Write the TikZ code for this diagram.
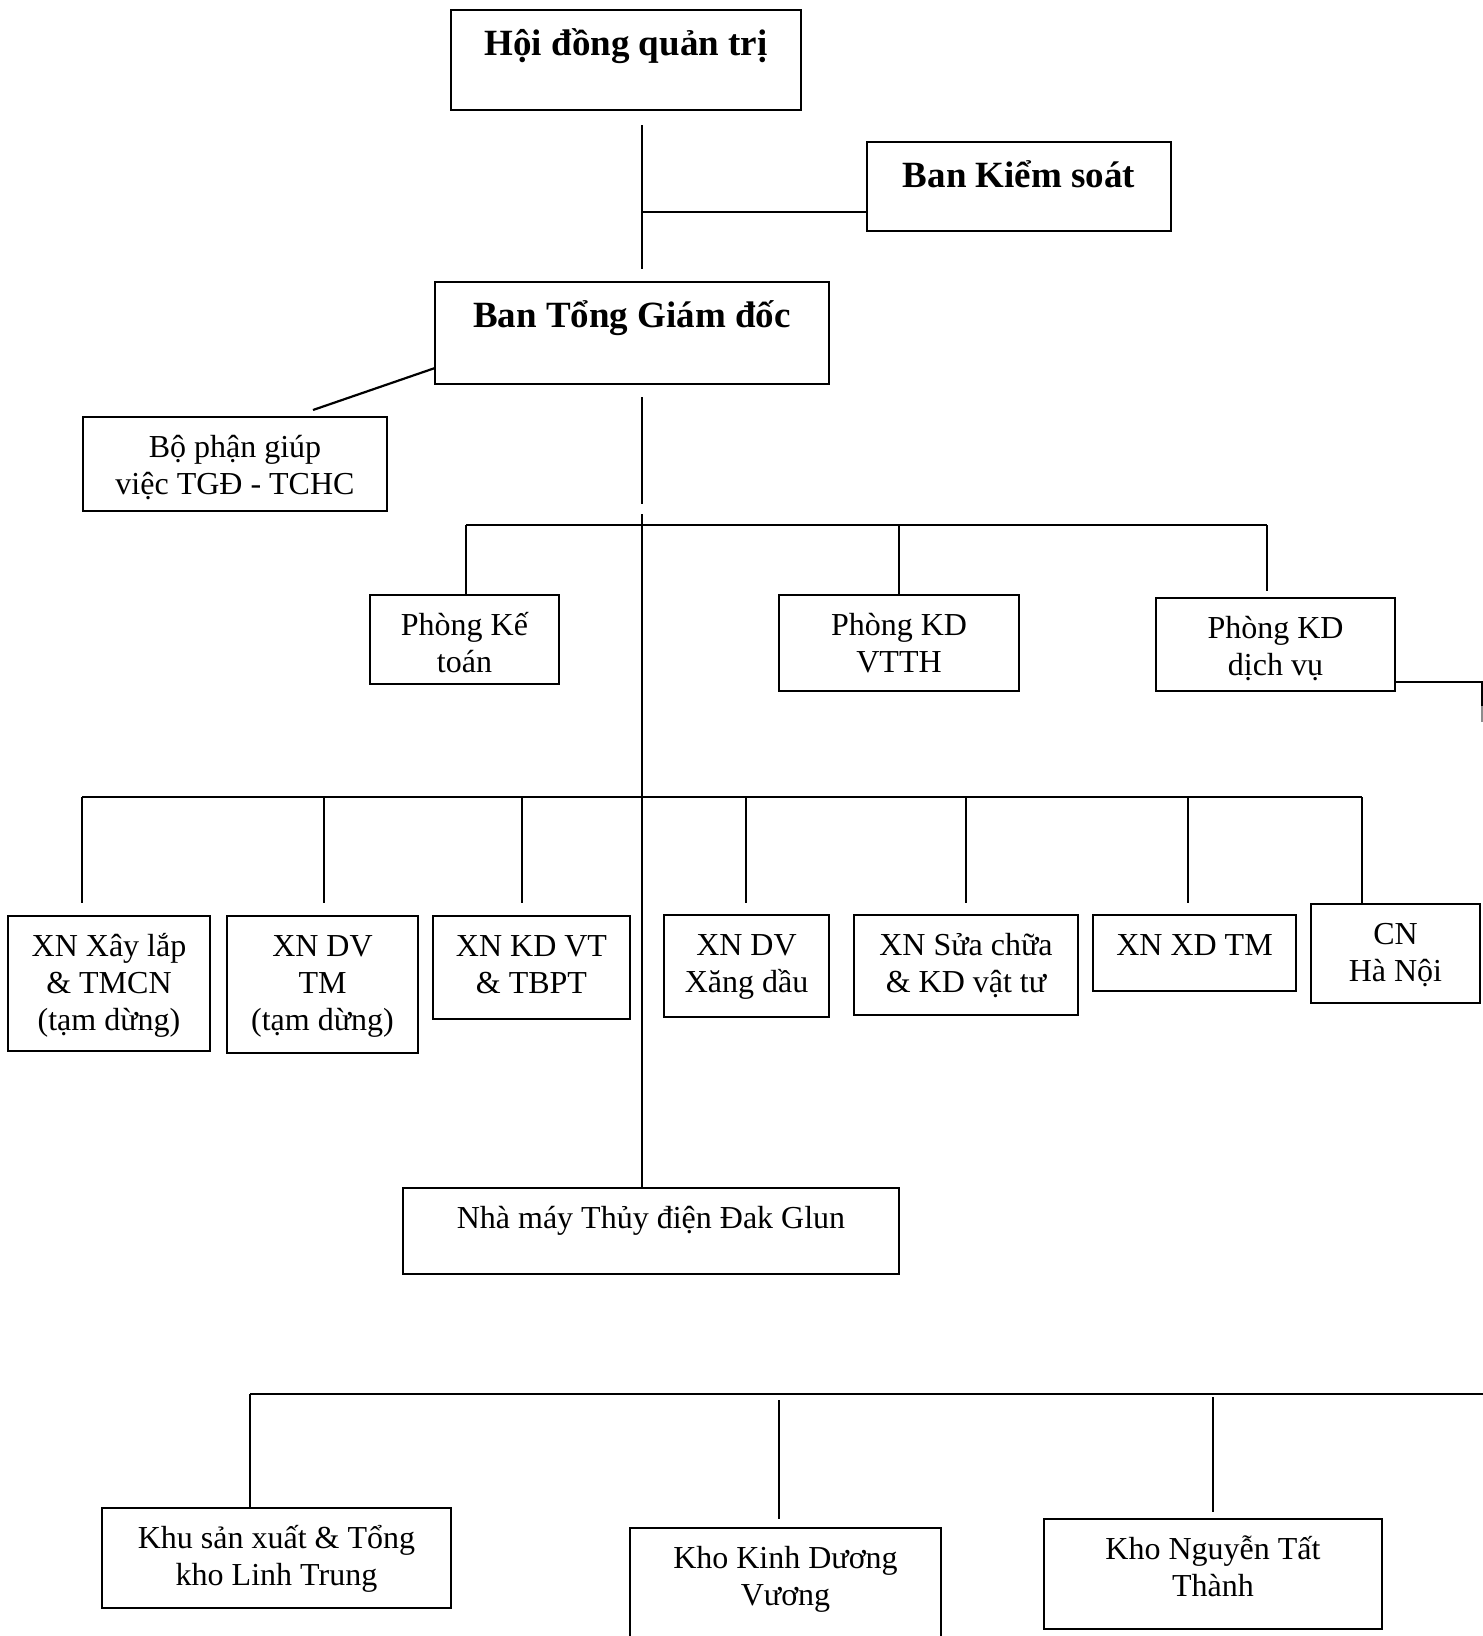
\documentclass[tikz,border=0pt]{standalone}
\usepackage{fontspec}
\setmainfont{Liberation Serif}
\begin{document}
\begin{tikzpicture}[x=1pt,y=-1pt,
  box/.style={draw,line width=2pt,inner sep=0pt,outer sep=0pt,rectangle},
  lbl/.style={anchor=north,inner sep=0pt,outer sep=0pt,align=center,
    font=\fontsize{32}{37}\selectfont,yshift=-8pt},
  blbl/.style={anchor=north,inner sep=0pt,outer sep=0pt,align=center,
    font=\fontsize{37}{42}\selectfont\bfseries,yshift=-8pt},
  conn/.style={line width=2.2pt}]
\clip (0,0) rectangle (1483,1636);
\fill[white] (0,0) rectangle (1483,1636);
% boxes
\node[box,minimum width=350pt,minimum height=100pt] (hdqt) at (626,60) {};
\node[box,minimum width=304pt,minimum height=89pt] (bks) at (1019,186.5) {};
\node[box,minimum width=394pt,minimum height=102pt] (tgd) at (632,333) {};
\node[box,minimum width=304pt,minimum height=94pt] (bp) at (235,464) {};
\node[box,minimum width=189pt,minimum height=89pt] (pkt) at (464.5,639.5) {};
\node[box,minimum width=240pt,minimum height=96pt] (pvt) at (899,643) {};
\node[box,minimum width=239pt,minimum height=93pt] (pdv) at (1275.5,644.5) {};
\node[box,minimum width=202pt,minimum height=135pt] (xn1) at (109,983.5) {};
\node[box,minimum width=191pt,minimum height=137pt] (xn2) at (322.5,984.5) {};
\node[box,minimum width=197pt,minimum height=103pt] (xn3) at (531.5,967.5) {};
\node[box,minimum width=165pt,minimum height=102pt] (xn4) at (746.5,966) {};
\node[box,minimum width=224pt,minimum height=100pt] (xn5) at (966,965) {};
\node[box,minimum width=203pt,minimum height=76pt] (xn6) at (1194.5,953) {};
\node[box,minimum width=169pt,minimum height=99pt] (cn) at (1395.5,953.5) {};
\node[box,minimum width=496pt,minimum height=86pt] (nm) at (651,1231) {};
\node[box,minimum width=349pt,minimum height=100pt] (k1) at (276.5,1558) {};
\node[box,minimum width=311pt,minimum height=132pt] (k2) at (785.5,1594) {};
\node[box,minimum width=338pt,minimum height=110pt] (k3) at (1213,1574) {};
% labels
\node[blbl] (hdqt-t) at (hdqt.north) {\rule{0pt}{37pt}Hội đồng quản trị};
\node[blbl] (bks-t) at (bks.north) {\rule{0pt}{37pt}Ban Kiểm soát};
\node[blbl] (tgd-t) at (tgd.north) {\rule{0pt}{37pt}Ban Tổng Giám đốc};
\node[lbl] (bp-t) at (bp.north) {\rule{0pt}{32pt}Bộ phận giúp\\việc TGĐ - TCHC};
\node[lbl] (pkt-t) at (pkt.north) {\rule{0pt}{32pt}Phòng Kế\\toán};
\node[lbl] (pvt-t) at (pvt.north) {\rule{0pt}{32pt}Phòng KD\\VTTH};
\node[lbl] (pdv-t) at (pdv.north) {\rule{0pt}{32pt}Phòng KD\\dịch vụ};
\node[lbl] (xn1-t) at (xn1.north) {\rule{0pt}{32pt}XN Xây lắp\\\& TMCN\\(tạm dừng)};
\node[lbl] (xn2-t) at (xn2.north) {\rule{0pt}{32pt}XN DV\\TM\\(tạm dừng)};
\node[lbl] (xn3-t) at (xn3.north) {\rule{0pt}{32pt}XN KD VT\\\& TBPT};
\node[lbl] (xn4-t) at (xn4.north) {\rule{0pt}{32pt}XN DV\\Xăng dầu};
\node[lbl] (xn5-t) at (xn5.north) {\rule{0pt}{32pt}XN Sửa chữa\\\& KD vật tư};
\node[lbl] (xn6-t) at (xn6.north) {\rule{0pt}{32pt}XN XD TM};
\node[lbl] (cn-t) at (cn.north) {\rule{0pt}{32pt}CN\\Hà Nội};
\node[lbl] (nm-t) at (nm.north) {\rule{0pt}{32pt}Nhà máy Thủy điện Đak Glun};
\node[lbl] (k1-t) at (k1.north) {\rule{0pt}{32pt}Khu sản xuất \& Tổng\\kho Linh Trung};
\node[lbl] (k2-t) at (k2.north) {\rule{0pt}{32pt}Kho Kinh Dương\\Vương};
\node[lbl] (k3-t) at (k3.north) {\rule{0pt}{32pt}Kho Nguyễn Tất\\Thành};
% connectors top
\coordinate (a1) at (642,125);
\coordinate (a2) at (642,269);
\coordinate (a3) at (642,212);
\draw[conn] (a1) -- (a2);
\draw[conn] (a3) -- (a3 -| bks.west);
\coordinate (t1) at (435,368);
\coordinate (b1) at (313,410);
\draw[conn] (t1) -- (b1);
\coordinate (c1) at (642,397);
\coordinate (c2) at (642,504);
\coordinate (c3) at (642,514);
\draw[conn] (c1) -- (c2);
\draw[conn] (c3) -- (c3 |- nm.north);
% first row
\coordinate (h1l) at (466,525);
\coordinate (h1m) at (899,525);
\coordinate (h1r) at (1267,525);
\draw[conn] (h1l) -- (h1r);
\draw[conn] (h1l) -- (h1l |- pkt.north);
\draw[conn] (h1m) -- (h1m |- pvt.north);
\draw[conn] (h1r) -- (1267,591);
\coordinate (r1) at (1395,682);
\coordinate (r2) at (1482,682);
\draw[conn] (r1) -- (r2) -- (1482,706);
\draw[line width=2.2pt,black!45] (1482,706) -- (1482,722);
% second row
\coordinate (h2l) at (82,797);
\coordinate (h2r) at (1362,797);
\draw[conn] (h2l) -- (h2r);
\foreach \x/\n in {82/xn1,324/xn2,522/xn3,746/xn4,966/xn5,1188/xn6}{
  \draw[conn] (\x,797) -- (\x,903);
}
\draw[conn] (h2r) -- (h2r |- cn.north);
% bottom row
\coordinate (h3l) at (250,1394);
\coordinate (h3r) at (1483,1394);
\draw[conn] (h3l) -- (h3r);
\draw[conn] (h3l) -- (h3l |- k1.north);
\coordinate (d2) at (779,1400);
\draw[conn] (d2) -- (779,1519);
\coordinate (d3) at (1213,1397);
\draw[conn] (d3) -- (1213,1512);
\end{tikzpicture}
\end{document}
